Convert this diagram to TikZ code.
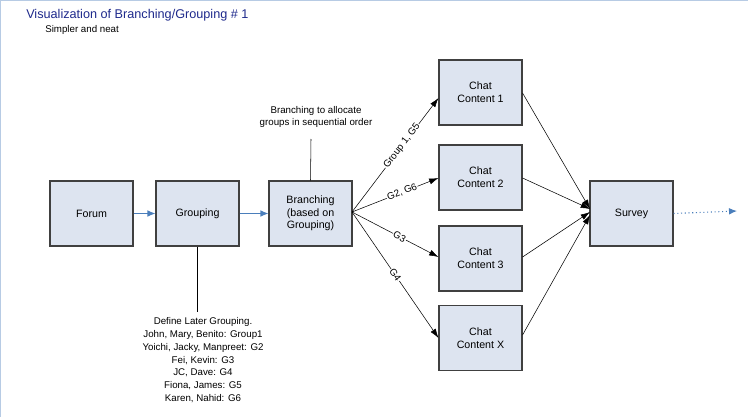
\documentclass[tikz,border=0pt]{standalone}
\usepackage{fontspec}
\setmainfont{Liberation Sans}
\usetikzlibrary{arrows.meta}
\definecolor{boxfill}{HTML}{DDE4F0}
\definecolor{boxline}{HTML}{404040}
\definecolor{flow}{HTML}{4A7EBB}
\definecolor{titleblue}{HTML}{1F2A8C}
\begin{document}
\begin{tikzpicture}[x=0.75pt,y=-0.75pt,
  box/.style={draw=boxline,line width=0.8pt,fill=boxfill,minimum width=62.25pt,minimum height=48.75pt,inner sep=0pt,align=center,font=\fontsize{8}{9.5}\selectfont},
  note/.style={align=center,font=\fontsize{7.3}{9.6}\selectfont,inner sep=1pt},
  blue/.style={draw=flow,line width=0.8pt,-{Latex[length=6pt,width=5pt]}},
  blk/.style={draw=black,line width=0.4pt,-{Latex[length=7pt,width=4.5pt]}},
  lab/.style={sloped,fill=white,inner sep=0.5pt,font=\fontsize{7.3}{8}\selectfont}]
\useasboundingbox (0,0) rectangle (748,417);
\draw[color=flow!40,line width=1pt] (0.5,417) -- (0.5,0.5) -- (748,0.5);
\node[anchor=west,text=titleblue,font=\fontsize{9.5}{10}\selectfont,inner sep=0] (title) at (26,15) {Visualization of Branching/Grouping \# 1};
\node[anchor=west,font=\fontsize{7.3}{8}\selectfont,inner sep=0] (sub) at (45,30) {Simpler and neat};
\node[box] (forum) at (91.5,213.5) {Forum};
\node[box] (group) at (197.5,213.5) {Grouping};
\node[box] (branch) at (310.5,213.5) {Branching\\(based on\\Grouping)};
\node[box] (c1) at (480.5,92.5) {Chat\\Content 1};
\node[box] (c2) at (480.5,177.5) {Chat\\Content 2};
\node[box] (c3) at (480.5,258.5) {Chat\\Content 3};
\node[box] (cx) at (480.5,338) {Chat\\Content X};
\node[box] (survey) at (631.5,213.5) {Survey};
\coordinate (out) at (737,211);
\draw[blue] (forum) -- (group);
\draw[blue] (group) -- (branch);
\draw[flow,line width=0.8pt,dotted,-{Latex[length=6pt,width=5pt]}] (survey.east) -- (out);
\coordinate (bs) at (352,212);
\draw[blk] (bs) -- node[lab,pos=0.58]{Group 1, G5} (c1.west|-0,98);
\draw[blk] (bs) -- node[lab,pos=0.58]{G2, G6} (c2.west|-0,178);
\draw[blk] (bs) -- node[lab,pos=0.55]{G3} (c3.west|-0,257);
\draw[blk] (bs) -- node[lab,pos=0.5]{G4} (cx.west|-0,338);
\coordinate (sv) at (590,209);
\draw[blk] (c1.east|-0,93) -- (sv);
\draw[blk] (c2.east|-0,178) -- (sv);
\draw[blk] (c3.east|-0,257) -- (590,212);
\draw[blk] (cx.east|-0,335) -- (590,215);
\node[note] (bnote) at (316,117) {Branching to allocate\\groups in sequential order};
\coordinate (bn) at (311,139);
\draw[line width=0.4pt] (bn) -- (branch.north);
\node[note,anchor=north] (gnote) at (203,316) {Define Later Grouping.\\John, Mary, Benito: Group1\\Yoichi, Jacky, Manpreet: G2\\Fei, Kevin: G3\\JC, Dave: G4\\Fiona, James: G5\\Karen, Nahid: G6};
\draw[line width=0.4pt] (group.south) -- (197.5,312);
\end{tikzpicture}
\end{document}
